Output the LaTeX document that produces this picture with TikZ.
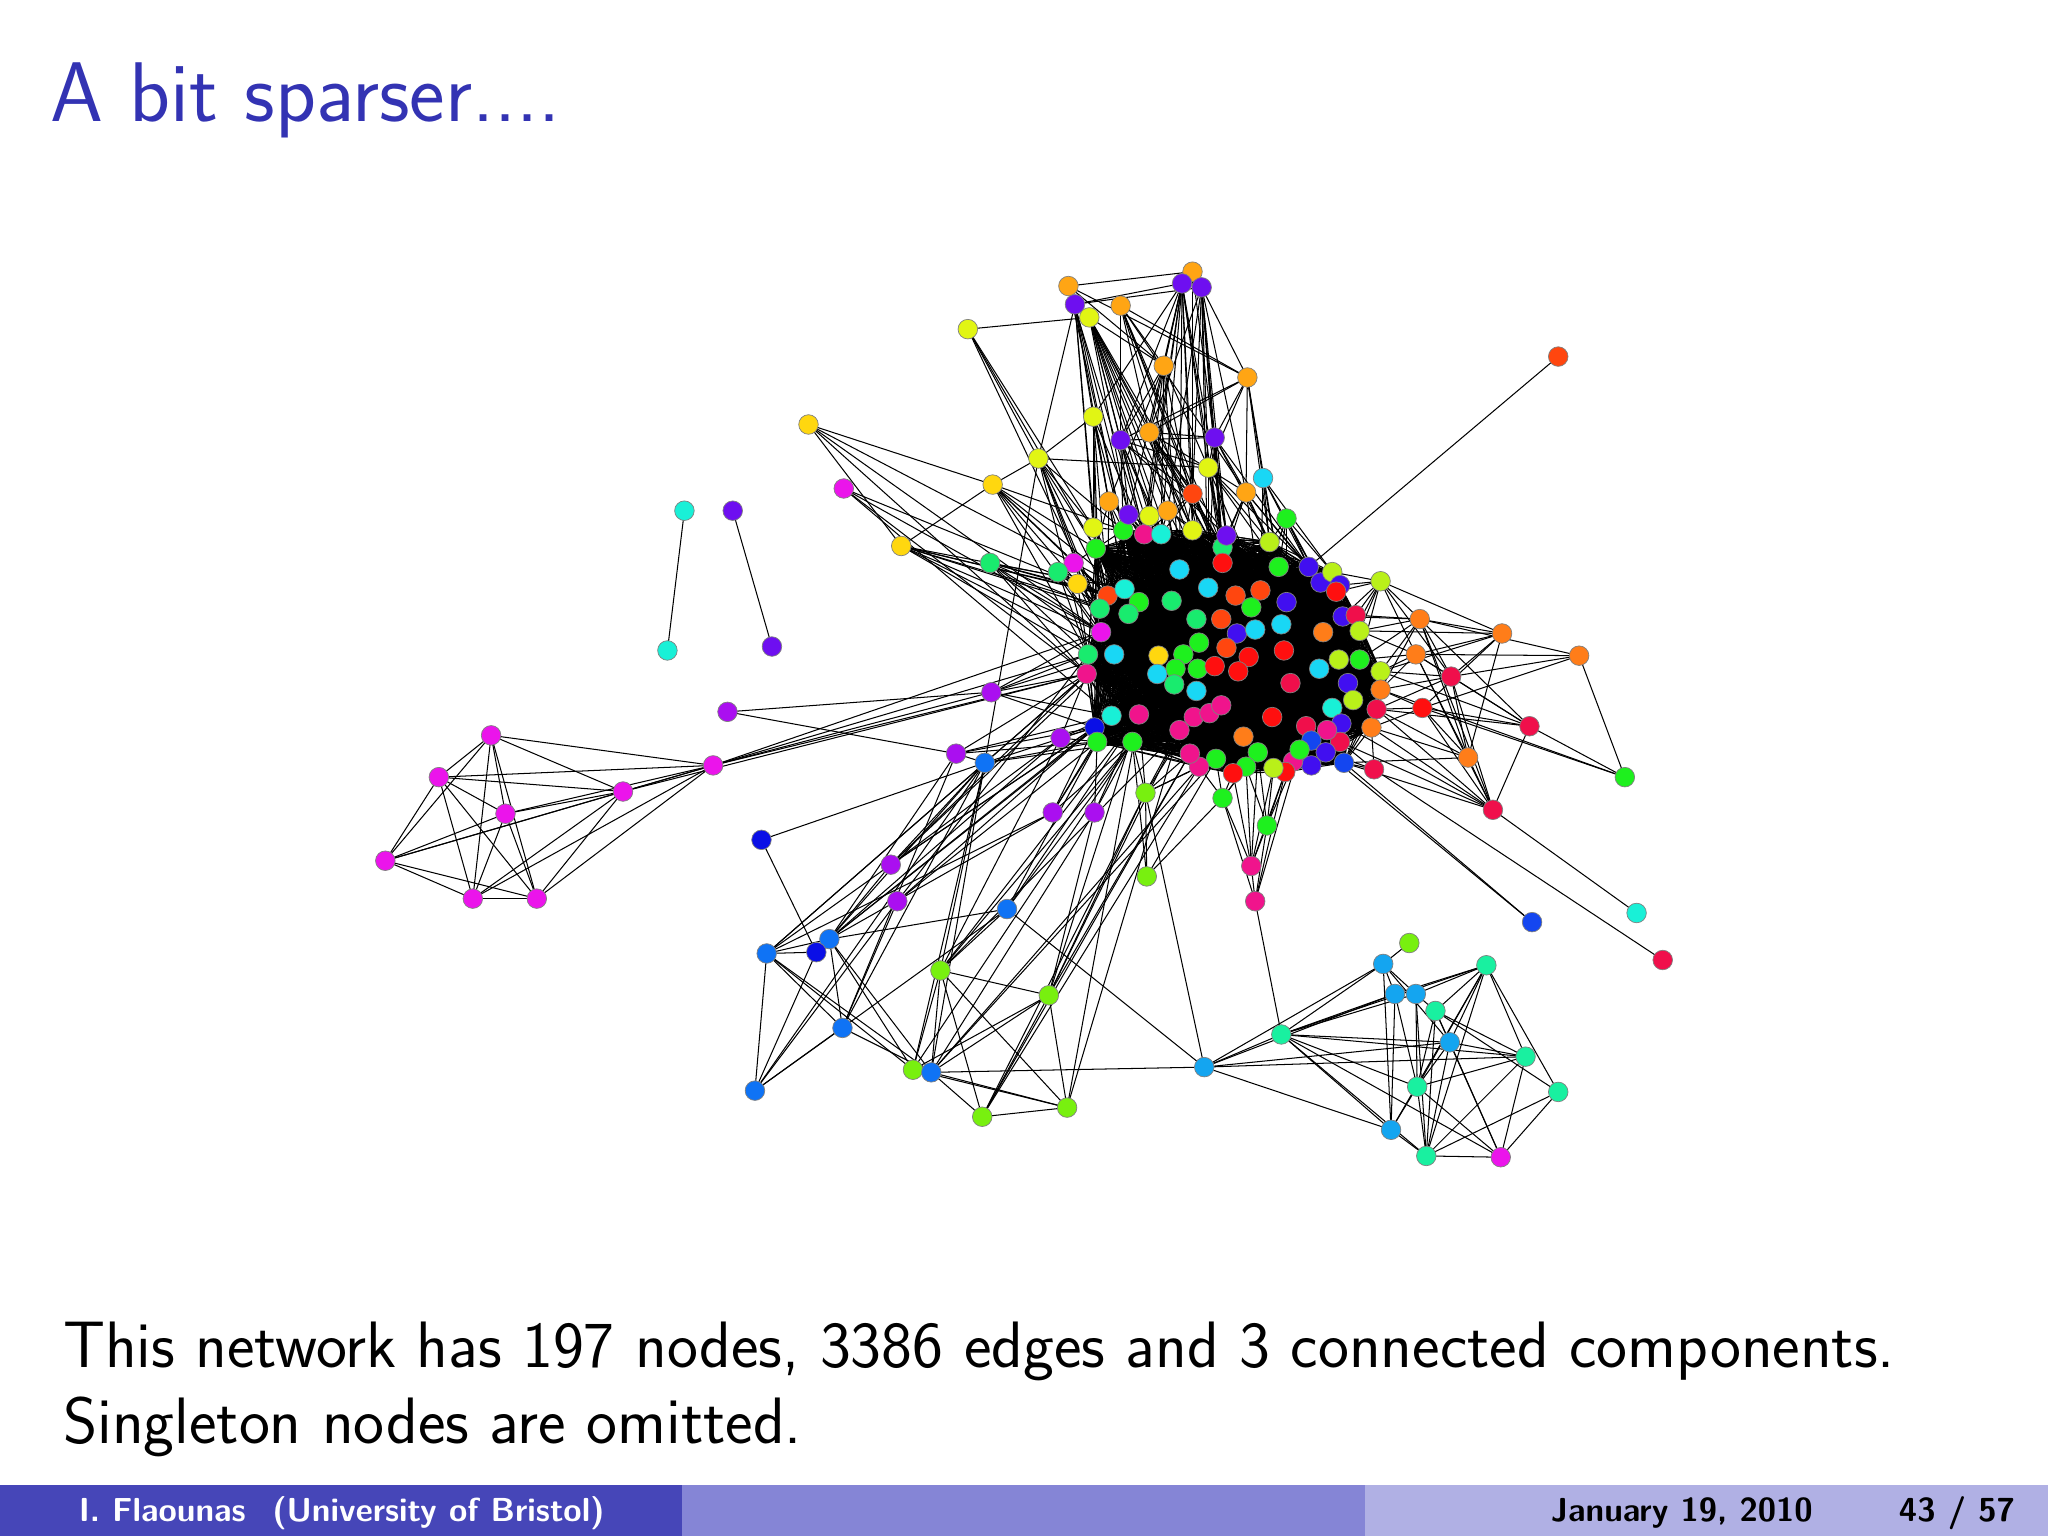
\documentclass[tikz,border=0pt]{standalone}
\pgfdeclarelayer{bglayer}
\pgfdeclarelayer{edgelayer}
\pgfsetlayers{bglayer,edgelayer,main}
\definecolor{titleblue}{RGB}{51,51,179}
\definecolor{footA}{RGB}{70,70,184}
\definecolor{footB}{RGB}{133,133,214}
\definecolor{footC}{RGB}{176,176,228}
\definecolor{cOr}{RGB}{255,165,20}
\definecolor{cOrr}{RGB}{255,125,25}
\definecolor{cRO}{RGB}{255,70,15}
\definecolor{cRd}{RGB}{255,15,15}
\definecolor{cCr}{RGB}{240,15,75}
\definecolor{cPk}{RGB}{240,20,140}
\definecolor{cMg}{RGB}{235,20,235}
\definecolor{cVi}{RGB}{170,15,240}
\definecolor{cPu}{RGB}{110,15,240}
\definecolor{cBv}{RGB}{65,15,240}
\definecolor{cBl}{RGB}{10,15,230}
\definecolor{cBm}{RGB}{20,70,240}
\definecolor{cAz}{RGB}{15,115,245}
\definecolor{cSk}{RGB}{20,165,240}
\definecolor{cCy}{RGB}{25,215,245}
\definecolor{cTq}{RGB}{25,240,215}
\definecolor{cSg}{RGB}{25,240,160}
\definecolor{cGt}{RGB}{25,235,110}
\definecolor{cGr}{RGB}{30,240,30}
\definecolor{cCh}{RGB}{120,240,15}
\definecolor{cYg}{RGB}{185,240,25}
\definecolor{cYl}{RGB}{225,245,20}
\definecolor{cGo}{RGB}{255,215,15}
\tikzset{
  nd/.style={circle, minimum size=0.3cm, inner sep=0pt, draw=black!50, line width=0.3pt},
  ed/.style={line width=0.45pt, black},
  foottext/.style={inner sep=0pt, font=\sffamily\bfseries\fontsize{14.5}{17}\selectfont}
}
\begin{document}
\begin{tikzpicture}[x=0.02cm,y=-0.02cm]
\useasboundingbox (0,0) rectangle (1568,1176);
\begin{pgfonlayer}{bglayer}
\fill[white] (0,0) rectangle (1568,1176);
\end{pgfonlayer}

% ---------- core nodes ----------
\foreach \i/\x/\y/\c in {
1/848/456/cRO, 2/861/451/cTq, 3/872/461/cGr, 4/864/470/cGt, 5/842/466/cGt,
6/843/484/cMg, 7/833/501/cGt, 8/832/516/cPk, 9/853/501/cCy, 10/903/436/cCy,
11/897/460/cGt, 12/925/450/cCy, 13/946/456/cRO, 14/965/452/cRO, 15/958/465/cGr,
16/916/474/cGt, 17/935/474/cRO, 18/947/485/cBv, 19/961/482/cCy, 20/985/461/cBv,
21/981/478/cCy, 22/918/492/cGr, 23/887/502/cGo, 24/906/501/cGr, 25/939/496/cRO,
26/956/503/cRd, 27/983/498/cRd, 28/900/512/cGr, 29/886/516/cCy, 30/917/512/cGr,
31/930/510/cRd, 32/948/514/cRd, 33/899/524/cGt, 34/916/529/cCy, 35/988/523/cCr,
36/1010/512/cCy, 37/1025/505/cYg, 38/1041/505/cGr, 39/1013/484/cOrr, 40/1028/472/cBv,
41/1038/471/cCr, 42/1041/483/cYg, 43/1032/523/cBv, 44/1036/536/cYg, 45/1020/542/cTq,
46/1027/554/cBv, 47/1026/568/cCr, 48/1016/559/cPk, 49/1000/556/cCr, 50/1004/567/cBm,
51/1015/576/cBv, 52/1029/584/cBm, 53/1004/586/cBv, 54/990/583/cPk, 55/995/574/cGr,
56/984/591/cRd, 57/975/588/cYg, 58/963/576/cGr, 59/954/587/cGr, 60/944/592/cRd,
61/974/549/cRd, 62/952/564/cOrr, 63/931/581/cGr, 64/918/587/cPk, 65/911/577/cPk,
66/903/559/cPk, 67/914/549/cPk, 68/926/546/cPk, 69/935/540/cPk, 70/872/547/cPk,
71/851/548/cTq, 72/838/557/cBl, 73/840/568/cGr, 74/867/568/cGr, 75/936/419/cGt,
76/936/431/cRd, 77/979/434/cGr, 78/972/415/cYg, 79/939/410/cPu, 80/913/406/cYl,
81/860/406/cGr, 82/876/409/cPk, 83/889/409/cTq, 84/1002/434/cBv, 85/1011/446/cBv,
86/1020/438/cYg, 87/1026/448/cBv, 88/1023/453/cRd, 89/839/420/cGr, 90/1050/557/cOrr,
91/1054/543/cCr, 92/1057/514/cYg, 93/1057/528/cOrr}
  \node[nd,fill=\c] (n\i) at (\x,\y) {};

% ---------- peripheral nodes ----------
\foreach \n/\x/\y/\c in {
t1/818/219/cOr, t2/913/208/cOr, t3/905/217/cPu, t4/920/220/cPu, t5/823/233/cPu,
t6/834/243/cYl, t7/858/234/cOr, t8/741/252/cYl, t9/891/280/cOr, t10/955/289/cOr,
t11/837/319/cYl, t12/880/331/cOr, t13/858/337/cPu, t14/930/335/cPu, t15/795/351/cYl,
t16/925/358/cYl, t17/619/325/cGo, t18/646/374/cMg, t19/760/371/cGo, t20/690/418/cGo,
t21/758/431/cGt, t22/967/366/cCy, t23/913/378/cRO, t24/954/377/cOr, t25/849/384/cOr,
t26/864/394/cPu, t27/880/395/cYl, t28/894/391/cOr, t29/837/404/cYl, t30/985/397/cGr,
t31/822/431/cMg, t32/810/438/cGt, t33/825/447/cGo, t34/1193/273/cRO,
r1/1057/445/cYg, r2/1087/474/cOrr, r3/1150/485/cOrr, r4/1209/502/cOrr, r5/1084/501/cOrr,
r6/1111/518/cCr, r7/1089/542/cRd, r8/1171/556/cCr, r9/1124/580/cOrr, r10/1244/595/cGr,
r11/1143/620/cCr, r12/1052/589/cCr, r13/1173/706/cBm, r14/1253/699/cTq, r15/1273/735/cCr,
l1/524/391/cTq, l2/561/391/cPu, l3/511/498/cTq, l4/591/495/cPu, l5/557/545/cVi,
l6/376/563/cMg, l7/336/595/cMg, l8/546/586/cMg, l9/477/606/cMg, l10/387/623/cMg,
l11/295/659/cMg, l12/362/688/cMg, l13/411/688/cMg, l14/583/643/cBl,
m1/759/530/cVi, m2/732/577/cVi, m3/754/584/cAz, m4/812/565/cVi, m5/806/622/cVi,
m6/838/622/cVi, m7/877/607/cCh, m8/878/671/cCh, m9/936/611/cGr, m10/970/632/cGr,
m11/958/663/cPk, m12/961/690/cPk, m13/682/662/cVi, m14/687/690/cVi,
b1/771/696/cAz, b2/587/730/cAz, b3/635/719/cAz, b4/625/729/cBl, b5/720/743/cCh,
b6/803/762/cCh, b7/645/787/cAz, b8/699/819/cCh, b9/713/821/cAz, b10/578/835/cAz,
b11/752/855/cCh, b12/817/848/cCh,
s1/1079/722/cCh, s2/1059/738/cSk, s3/1138/739/cSg, s4/1068/761/cSk, s5/1084/761/cSk,
s6/1099/774/cSg, s7/1110/798/cSk, s8/981/792/cSg, s9/922/817/cSk, s10/1168/809/cSg,
s11/1193/836/cSg, s12/1085/832/cSg, s13/1065/865/cSk, s14/1092/885/cSg, s15/1149/886/cMg}
  \node[nd,fill=\c] (\n) at (\x,\y) {};

% ---------- text ----------
\node[anchor=base west,inner sep=0pt,text=titleblue,font=\sffamily\fontsize{36.9}{44}\selectfont] (title) at (38,93) {A bit sparser....};
\node[anchor=base west,inner sep=0pt,font=\sffamily\fontsize{28.6}{34}\selectfont] (lineA) at (48,1047) {This network has 197 nodes, 3386 edges and 3 connected components.};
\node[anchor=base west,inner sep=0pt,font=\sffamily\fontsize{28.6}{34}\selectfont] (lineB) at (48,1105) {Singleton nodes are omitted.};

\fill[footA] (0,1137) rectangle (522,1176);
\fill[footB] (522,1137) rectangle (1045,1176);
\fill[footC] (1045,1137) rectangle (1568,1176);
\node[anchor=base west,foottext,text=white] (author) at (60,1165) {I. Flaounas\hspace{0.8em}(University of Bristol)};
\node[anchor=base west,foottext] (date) at (1187,1165) {January 19, 2010};
\node[anchor=base east,foottext] (page) at (1543,1165) {43 / 57};

% ---------- edges ----------
\begin{pgfonlayer}{edgelayer}
\foreach \i in {1,...,92}{
  \pgfmathtruncatemacro{\s}{\i+1}
  \foreach \j in {\s,...,93}{ \draw[ed] (n\i.center) -- (n\j.center); }
}
\foreach \a/\b in {
t1/t2, t1/t9, t1/t10, t1/n81, t1/n82,
t2/n80, t2/n79,
t3/t5, t3/t11, t3/t13, t3/t12, t3/t9, t3/t16, t3/n80, t3/n75, t3/n10, t3/n82, t3/n83, t3/n79, t3/t26, t3/t27, t3/t23,
t4/t5, t4/t14, t4/t16, t4/t10, t4/t12, t4/n76, t4/n12, t4/n79, t4/n75, t4/t28, t4/t23, t4/t24,
t5/t15, t5/t11, t5/n89, t5/n81, t5/t29, t5/t25, t5/t26,
t6/t8, t6/t13, t6/t12, t6/t9, t6/n10, t6/n80, t6/n82, t6/n83, t6/t26, t6/t28, t6/n76, t6/n75, t6/n12, t6/t27,
t7/t10, t7/t12, t7/t13, t7/n75, t7/n80, t7/n76, t7/t24, t7/t23, t7/t9,
t8/t15, t8/t29, t8/n89, t8/n5,
t9/t13, t9/t16, t9/n10, t9/n12, t9/n82, t9/n83, t9/t25,
t10/t12, t10/t13, t10/t14, t10/t24, t10/n78, t10/n77, t10/t16, t10/t22,
t11/n89, t11/n81, t11/n82, t11/n5, t11/n1, t11/n2, t11/t25, t11/t29,
t12/n75, t12/n76, t12/n12, t12/n80, t12/t23, t12/n10, t12/t24, t12/n79, t12/t14,
t13/t14, t13/n81, t13/n82, t13/n83, t13/n10, t13/n11, t13/t23, t13/n79, t13/n3,
t14/n75, t14/n76, t14/n79, t14/n78, t14/n12, t14/n84, t14/t16, t14/t24,
t15/t11, t15/t19, t15/t29, t15/n89, t15/n5, t15/n6, t15/n7, t15/n9, t15/n1, t15/n81, t15/m3, t15/t16,
t16/n75, t16/n76, t16/n77, t16/n78, t16/n84, t16/n13, t16/n14, t16/n12, t16/t13,
t17/t19, t17/t20, t17/n8, t17/n6, t17/t31,
t18/n6, t18/n8, t18/n71, t18/t33,
t19/t20, t19/n1, t19/n3, t19/n5, t19/n89, t19/n81, t19/n9, t19/n7, t19/n4,
t20/n1, t20/n2, t20/n5, t20/n6, t20/n7, t20/n4, t20/n9, t20/n3,
t21/n1, t21/n2, t21/n3, t21/n5, t21/n6, t21/n7, t21/n8, t21/n9,
t22/n77, t22/n78, t22/n84, t22/n85, t22/n86, t22/n14,
t23/n10, t23/n12, t23/n13, t23/n75, t23/n76, t23/n82, t23/n83,
t24/n75, t24/n76, t24/n77, t24/n78, t24/n79, t24/n14, t24/n84, t24/n85,
t25/n81, t25/n82, t25/n89, t25/n1, t25/n2, t25/n3, t25/n10,
t26/n81, t26/n82, t26/n83, t26/n10, t26/n11, t26/n3,
t27/n82, t27/n83, t27/n10, t27/n12, t27/n11,
t28/n83, t28/n80, t28/n10, t28/n12, t28/n75,
t29/n89, t29/n81, t29/n1, t29/n5, t29/n2, t29/n3,
t30/n77, t30/n78, t30/n84, t30/n85, t30/n86, t30/n14, t30/n20,
t31/n1, t31/n5, t31/n89, t31/n2, t31/n6,
t32/n1, t32/n5, t32/n6, t32/n2, t32/n7,
t33/n5, t33/n6, t33/n1, t33/n7,
t34/n84,
r1/n86, r1/n87, r1/n88, r1/n40, r1/n41, r1/n42, r1/n38, r1/n37, r1/r2, r1/r3, r1/r5, r1/r6,
r2/r3, r2/r6, r2/r9, r2/r11, r2/n41, r2/n42, r2/n38, r2/n92, r2/n93, r2/n40,
r3/r5, r3/r9, r3/r7, r3/r6, r3/n42, r3/n92,
r4/r2, r4/r5, r4/r10, r4/r6, r4/r7,
r5/n92, r5/n93, r5/n38, r5/n42, r5/r6, r5/r8, r5/r11, r5/r9,
r6/r8, r6/r11, r6/r9, r6/n92, r6/n93, r6/n91,
r7/r9, r7/r11, r7/r8, r7/n91, r7/n93, r7/n90,
r8/r10, r8/r11, r8/r2, r8/n91, r8/n92,
r9/r11, r9/n90, r9/n91, r9/n52,
r10/n93, r10/r7,
r11/r14, r11/n90, r11/n91, r11/n52, r11/n47, r11/n46,
r12/r15, r12/n52, r12/n51, r12/n47, r12/n90,
r13/n52, r13/n50,
l1/l3, l2/l4,
l6/l7, l6/l11, l6/l10, l6/l12, l6/l13, l6/l9, l6/l8,
l7/l11, l7/l8, l7/l9, l7/l10, l7/l12, l7/l13,
l11/l12, l11/l13, l11/l10, l11/l9, l11/l8,
l10/l9, l10/l12, l10/l13, l10/l8,
l12/l13, l12/l9, l12/l8,
l13/l9, l13/l8,
l9/l8, l9/n8,
l8/m1, l8/n7, l8/n8, l8/n6,
l5/m1, l5/m2,
l14/m3, l14/b4,
m1/n7, m1/n8, m1/n6, m1/n9, m1/n71, m1/n72,
m2/n8, m2/n72, m2/n73, m2/n71, m2/m3, m2/b3, m2/b7,
m3/n72, m3/n73, m3/n74, m3/n8, m3/b2, m3/b3, m3/b7, m3/b10, m3/b9, m3/m13, m3/b5, m3/b8,
m4/n72, m4/n73, m4/n71, m4/n8, m4/b3, m4/b5, m4/m13,
m5/n72, m5/n73, m5/n74, m5/n71, m5/b2, m5/b3,
m6/n73, m6/n74, m6/n70, m6/b6, m6/b9,
m7/n74, m7/n70, m7/n66, m7/n65, m7/n64, m7/n63, m7/n67, m7/m8, m7/s9, m7/b11, m7/b6,
m8/m9, m8/n63, m8/n74,
m9/n60, m9/n63, m9/n59, m9/n64, m9/n58, m9/m11, m9/m12,
m10/n56, m10/n57, m10/n58, m10/n59, m10/n55, m10/m11, m10/m12,
m11/n60, m11/n59, m11/n58, m11/n56, m11/n57, m11/m12,
m12/n56, m12/n55, m12/s8,
m13/n72, m13/n71, m13/n8, m13/b2, m13/b3, m13/n9,
m14/n73, m14/n72, m14/n7, m14/b10, m14/b7,
b1/b3, b1/b10, b1/s9, b1/n74, b1/n73, b1/n70, b1/b5,
b2/b3, b2/b4, b2/b10, b2/b7, b2/b9, b2/b8, b2/n8,
b3/b7, b3/b9, b3/b8, b3/n72, b3/n71,
b4/b10,
b5/b6, b5/b8, b5/b9, b5/b11, b5/b12, b5/n74, b5/n70, b5/n66,
b6/b8, b6/b9, b6/b11, b6/b12, b6/n70, b6/n66, b6/n65,
b7/b9, b7/b10,
b8/b9, b8/b12, b8/n74,
b9/s9, b9/b11, b9/b12, b9/n63, b9/n64,
b11/b12, b11/n65, b11/n64,
b12/n70, b12/n66,
s1/s2, s2/s8, s2/s9, s2/s13, s2/s5, s2/s4, s2/s7,
s3/s4, s3/s5, s3/s6, s3/s7, s3/s10, s3/s11, s3/s12, s3/s14, s3/s13, s3/s8,
s4/s13, s4/s12, s4/s8, s4/s9,
s5/s6, s5/s12, s5/s8, s5/s14,
s6/s7, s6/s10, s6/s12, s6/s14, s6/s15, s6/s11,
s7/s12, s7/s14, s7/s15, s7/s8, s7/s9, s7/s10,
s8/s9, s8/s10, s8/s12, s8/s13, s8/s14, s8/s15,
s9/s13, s9/s10,
s10/s12, s10/s14, s10/s15,
s11/s14, s11/s15,
s12/s13, s12/s14, s12/s15,
s13/s14, s14/s15}
  \draw[ed] (\a.center) -- (\b.center);
\end{pgfonlayer}
\end{tikzpicture}
\end{document}
